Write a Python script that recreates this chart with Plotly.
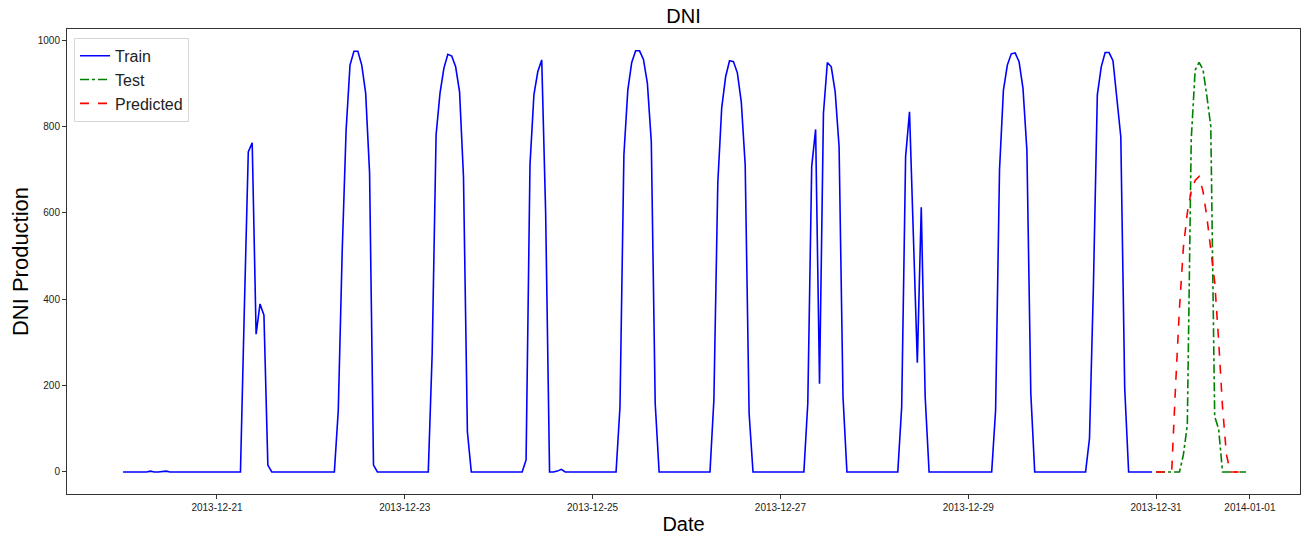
import pandas as pd
import plotly.graph_objects as go

# ---- data (hourly DNI values) ----
train_start = "2013-12-20 00:00"
test_start = "2013-12-31 00:00"

dec20 = [0, 0, 0, 0, 0, 0, 0, 2, 0, 0, 1, 2, 0, 0, 0, 0, 0, 0, 0, 0, 0, 0, 0, 0]
dec21 = [0, 0, 0, 0, 0, 0, 0, 380, 741, 762, 319, 389, 363, 16, 0, 0, 0, 0, 0, 0, 0, 0, 0, 0]
dec22 = [0, 0, 0, 0, 0, 0, 0, 143, 510, 791, 942, 974, 974, 942, 877, 692, 16, 0, 0, 0, 0, 0, 0, 0]
dec23 = [0, 0, 0, 0, 0, 0, 0, 275, 780, 877, 935, 967, 963, 938, 880, 684, 93, 0, 0, 0, 0, 0, 0, 0]
dec24 = [0, 0, 0, 0, 0, 0, 0, 28, 711, 873, 927, 954, 600, 0, 0, 2, 6, 0, 0, 0, 0, 0, 0, 0]
dec25 = [0, 0, 0, 0, 0, 0, 0, 151, 734, 884, 948, 975, 975, 955, 900, 765, 159, 0, 0, 0, 0, 0, 0, 0]
dec26 = [0, 0, 0, 0, 0, 0, 0, 167, 669, 843, 915, 952, 950, 924, 857, 711, 136, 0, 0, 0, 0, 0, 0, 0]
dec27 = [0, 0, 0, 0, 0, 0, 0, 159, 707, 793, 204, 830, 948, 938, 880, 753, 174, 0, 0, 0, 0, 0, 0, 0]
dec28 = [0, 0, 0, 0, 0, 0, 0, 151, 730, 834, 540, 253, 613, 174, 0, 0, 0, 0, 0, 0, 0, 0, 0, 0]
dec29 = [0, 0, 0, 0, 0, 0, 0, 143, 699, 884, 942, 968, 970, 950, 888, 745, 182, 0, 0, 0, 0, 0, 0, 0]
dec30 = [0, 0, 0, 0, 0, 0, 0, 78, 430, 873, 938, 971, 971, 952, 869, 776, 194, 0, 0, 0, 0, 0, 0, 0]

test_dec31 = [0, 0, 0, 0, 0, 0, 0, 40, 109, 770, 930, 948, 932, 870, 800, 128, 100, 0, 0, 0, 0, 0, 0, 0]
pred_dec31 = [0, 0, 0, 0, 0, 200, 380, 520, 600, 650, 675, 684, 650, 590, 520, 440, 305, 150, 40, 0, 0, 0, 0, 0]

tick_vals = ["2013-12-21", "2013-12-23", "2013-12-25", "2013-12-27", "2013-12-29", "2013-12-31", "2014-01-01"]
tick_text = ["2013-12-21", "2013-12-23", "2013-12-25", "2013-12-27", "2013-12-29", "2013-12-31", "2014-01-01"]
y_ticks = [0, 200, 400, 600, 800, 1000]

train_values = dec20 + dec21 + dec22 + dec23 + dec24 + dec25 + dec26 + dec27 + dec28 + dec29 + dec30
train_dates = pd.date_range(train_start, periods=len(train_values), freq="h")
test_dates = pd.date_range(test_start, periods=len(test_dec31), freq="h")

FONT = "Liberation Sans, Arial, sans-serif"
W, H = 1308, 532  # page body has an 8px margin

fig = go.Figure()
fig.add_trace(go.Scatter(x=train_dates, y=train_values, mode="lines", name="Train",
                         line=dict(color="blue", width=1.6)))
fig.add_trace(go.Scatter(x=test_dates, y=test_dec31, mode="lines", name="Test",
                         line=dict(color="green", width=1.6, dash="dashdot")))
fig.add_trace(go.Scatter(x=test_dates, y=pred_dec31, mode="lines", name="Predicted",
                         line=dict(color="red", width=1.6, dash="dash")))

fig.update_layout(
    width=W, height=H,
    margin=dict(l=59, r=16, t=21, b=46),
    paper_bgcolor="white", plot_bgcolor="white",
    font=dict(family=FONT, color="black"),
    title=dict(text="DNI", x=0.5, xanchor="center", xref="paper",
               y=1 - 8 / H, yref="container", yanchor="middle",
               font=dict(size=20, family=FONT, color="black")),
    legend=dict(x=0.0057, y=0.981, xanchor="left", yanchor="top",
                bgcolor="rgba(255,255,255,0.9)", bordercolor="#d6d6d6", borderwidth=1,
                font=dict(size=16, family=FONT, color="#222222"),
                tracegroupgap=0, itemwidth=30),
    showlegend=True,
)

fig.update_xaxes(
    range=["2013-12-19 09:40", "2014-01-01 12:48"],
    tickmode="array", tickvals=tick_vals, ticktext=tick_text,
    ticks="outside", ticklen=4, tickcolor="#333333", tickwidth=1,
    tickfont=dict(size=10, family=FONT, color="#222222"),
    showgrid=False, zeroline=False,
    showline=True, linecolor="#333333", linewidth=1, mirror=True,
    title=dict(text="Date", font=dict(size=20, family=FONT, color="black"), standoff=4),
    automargin=False,
)
fig.update_yaxes(
    range=[-51, 1025.5],
    tickmode="array", tickvals=y_ticks,
    ticks="outside", ticklen=4, tickcolor="#333333", tickwidth=1,
    tickfont=dict(size=10, family=FONT, color="#222222"),
    showgrid=False, zeroline=False,
    showline=True, linecolor="#333333", linewidth=1, mirror=True,
    title=dict(text="DNI Production", font=dict(size=22, family=FONT, color="black"), standoff=6),
    automargin=False,
)

fig.write_html("out.html")
